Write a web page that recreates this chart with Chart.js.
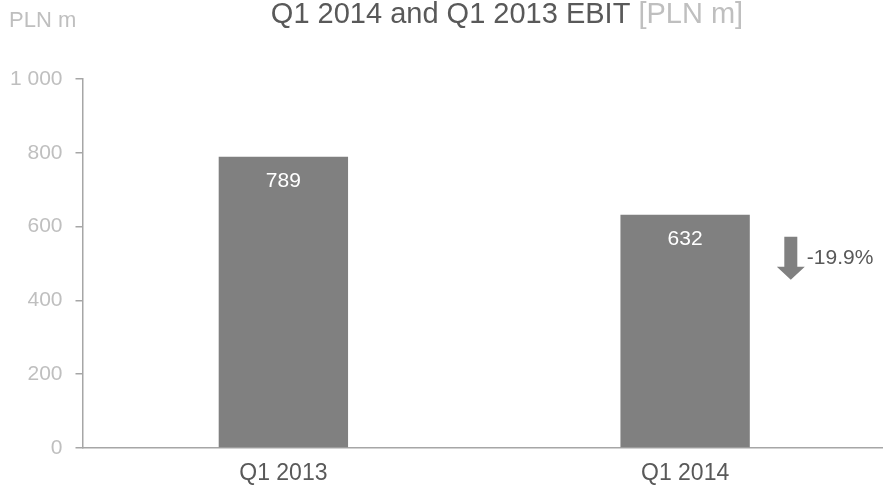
<!DOCTYPE html>
<html>
<head>
<meta charset="utf-8">
<script src="https://cdn.jsdelivr.net/npm/chart.js@4/dist/chart.umd.min.js"></script>
<style>
  html, body { margin: 0; padding: 0; background: #fff; overflow: hidden; }
  #wrap { width: 886px; height: 488px; position: relative; }
</style>
</head>
<body>
<div id="wrap"><canvas id="myChart"></canvas></div>
<script>
// data
var categories = ['Q1 2013', 'Q1 2014'];
var ebitValues = [789, 632];
var yMin = 0, yMax = 1000, yStep = 200;
var titleMain = 'Q1 2014 and Q1 2013 EBIT';
var titleUnit = '[PLN m]';
var axisUnit = 'PLN m';
var changeText = '-19.9%';

var FONT = '"Liberation Sans", Arial, sans-serif';
var DARK = '#595959';
var LIGHT = '#bfbfbf';
var BAR = '#808080';

function fmtThousands(v) {
    return String(v).replace(/\B(?=(\d{3})+(?!\d))/g, ' ');
}

var extras = {
    id: 'extras',
    afterDatasetsDraw: function (chart) {
        var ctx = chart.ctx;
        var meta = chart.getDatasetMeta(0);
        ctx.save();

        // value labels inside the bars
        ctx.fillStyle = '#ffffff';
        ctx.font = '21px ' + FONT;
        ctx.textAlign = 'center';
        ctx.textBaseline = 'middle';
        meta.data.forEach(function (bar, i) {
            ctx.fillText(String(ebitValues[i]), bar.x, bar.y + 24);
        });

        // down arrow + change next to the last bar
        var last = meta.data[meta.data.length - 1];
        var props = last.getProps(['x', 'y', 'width'], true);
        var cx = props.x + props.width / 2 + 41;
        var top = props.y + 22;
        ctx.fillStyle = BAR;
        ctx.beginPath();
        ctx.moveTo(cx - 6.5, top);
        ctx.lineTo(cx + 6.5, top);
        ctx.lineTo(cx + 6.5, top + 30);
        ctx.lineTo(cx + 14, top + 30);
        ctx.lineTo(cx, top + 43);
        ctx.lineTo(cx - 14, top + 30);
        ctx.lineTo(cx - 6.5, top + 30);
        ctx.closePath();
        ctx.fill();

        ctx.fillStyle = DARK;
        ctx.font = '21px ' + FONT;
        ctx.textAlign = 'left';
        ctx.fillText(changeText, cx + 16, top + 21);

        ctx.restore();
    },
    afterDraw: function (chart) {
        var ctx = chart.ctx;
        ctx.save();
        ctx.textBaseline = 'middle';

        // unit label top-left
        ctx.font = '22px ' + FONT;
        ctx.fillStyle = LIGHT;
        ctx.textAlign = 'left';
        ctx.fillText(axisUnit, 9, 21);

        // two-colour title
        ctx.font = '29px ' + FONT;
        var w1 = ctx.measureText(titleMain + ' ').width;
        var w2 = ctx.measureText(titleUnit).width;
        var x0 = 507 - (w1 + w2) / 2;
        ctx.fillStyle = DARK;
        ctx.fillText(titleMain + ' ', x0, 15);
        ctx.fillStyle = LIGHT;
        ctx.fillText(titleUnit, x0 + w1, 15);

        ctx.restore();
    }
};

var ctx = document.getElementById('myChart');
var xx = new Chart(ctx, {
    type: 'bar',
    data: {
        labels: categories,
        datasets: [{
            label: 'EBIT',
            data: ebitValues,
            backgroundColor: BAR,
            borderWidth: 0,
            barPercentage: 0.322,
            categoryPercentage: 1
        }]
    },
    options: {
        responsive: true,
        maintainAspectRatio: false,
        animation: false,
        layout: { padding: { top: 79, left: 0, right: 0, bottom: 0 } },
        plugins: {
            legend: { display: false },
            tooltip: { enabled: false }
        },
        scales: {
            x: {
                grid: { display: false },
                border: { display: true, color: '#a6a6a6', width: 1.5 },
                ticks: {
                    color: DARK,
                    font: { family: FONT, size: 23 },
                    padding: 4
                },
                afterFit: function (scale) { scale.height = 40; }
            },
            y: {
                min: yMin,
                max: yMax,
                grid: {
                    drawOnChartArea: false,
                    drawTicks: true,
                    tickLength: 7,
                    color: '#a6a6a6',
                    lineWidth: 1.5
                },
                border: { display: true, color: '#a6a6a6', width: 1.5 },
                ticks: {
                    stepSize: yStep,
                    color: LIGHT,
                    font: { family: FONT, size: 21 },
                    padding: 13,
                    callback: function (v) { return fmtThousands(v); }
                },
                afterFit: function (scale) { scale.width = 82.5; }
            }
        }
    },
    plugins: [extras]
});
</script>
</body>
</html>
